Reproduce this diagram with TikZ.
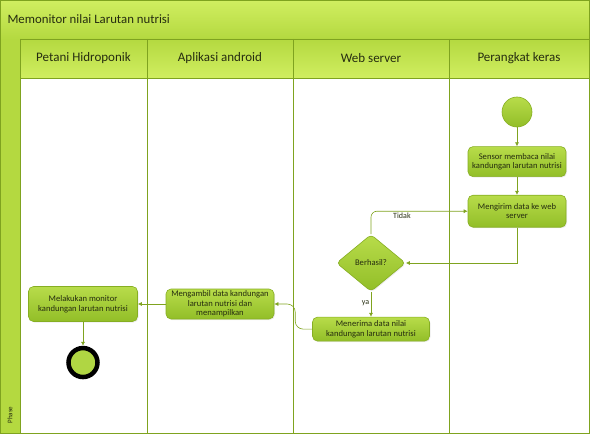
\documentclass[tikz,border=0pt]{standalone}
\usepackage{fontspec}
\setmainfont{Carlito}
\usepackage{xcolor}
\usetikzlibrary{arrows.meta,positioning,shapes.geometric,shadows}
\definecolor{laneLine}{HTML}{7FA31F}
\definecolor{bandLight}{HTML}{D0EE60}
\definecolor{bandDark}{HTML}{B4D940}
\definecolor{actLight}{HTML}{B8DC4A}
\definecolor{actDark}{HTML}{92BE28}
\definecolor{actEdge}{HTML}{86AE22}
\definecolor{inkText}{HTML}{262D10}
\tikzset{
    >=Latex,
    act/.style={draw=actEdge, line width=0.6pt, rounded corners=5pt, align=center, font=\fontsize{8.6}{9.6}\selectfont, text=inkText, top color=actLight, bottom color=actDark, inner sep=1pt, drop shadow={shadow xshift=1pt, shadow yshift=-1pt, opacity=0.15}},
    dec/.style={diamond, draw=actEdge, line width=0.6pt, rounded corners=4pt, font=\fontsize{8.6}{9.6}\selectfont, text=inkText, top color=actLight, bottom color=actDark, inner sep=0pt, minimum width=69pt, minimum height=57pt, drop shadow={shadow xshift=1pt, shadow yshift=-1pt, opacity=0.15}},
    startdot/.style={circle, draw=actEdge, line width=0.6pt, top color=actLight, bottom color=actDark, minimum size=30pt, inner sep=0pt},
    enddot/.style={circle, draw=black, line width=4.5pt, fill=actLight!80!actDark, minimum size=29pt, inner sep=0pt},
    flow/.style={-{Latex[length=4pt,width=4pt]}, line width=0.6pt, draw=laneLine},
    lbl/.style={font=\fontsize{8}{9}\selectfont, text=inkText, inner sep=1.5pt},
    lanehead/.style={font=\fontsize{13}{15}\selectfont, text=inkText}
}
\begin{document}
\begin{tikzpicture}[x=1pt, y=-1pt]
\useasboundingbox (0,0) rectangle (590,436);
% pool, title band, lane headers
\shade[top color=bandLight, bottom color=bandDark, draw=laneLine, line width=0.8pt] (0.5,0.5) rectangle (589.5,39);
\shade[top color=bandDark, bottom color=bandLight, draw=laneLine, line width=0.8pt] (20,39) rectangle (589.5,78);
\fill[bandDark] (0.5,39) rectangle (20,433);
\draw[laneLine, line width=0.8pt] (0.5,0.5) rectangle (589.5,433);
\draw[laneLine, line width=0.8pt] (20,39) -- (20,433);
\foreach \lx in {147,293,449}
    \draw[laneLine, line width=0.8pt] (\lx,39) -- (\lx,433);
\node[anchor=west, font=\fontsize{12.8}{15}\selectfont, text=inkText] (judul) at (4,19) {Memonitor nilai Larutan nutrisi};
\node[lanehead] (petani) at (83.5,58) {Petani Hidroponik};
\node[lanehead] (aplikasi) at (220,58) {Aplikasi android};
\node[lanehead] (server) at (371,58) {Web server};
\node[lanehead] (perangkat) at (519,58) {Perangkat keras};
\node[rotate=90, font=\fontsize{7}{8}\selectfont, text=inkText] (fase) at (10,415) {Phase};
% activities
\node[startdot] (mulai) at (517,112) {};
\node[act, minimum width=98pt, minimum height=30pt, below=19pt of mulai] (sensor) {Sensor membaca nilai\\kandungan larutan nutrisi};
\node[act, minimum width=98pt, minimum height=32pt, below=18pt of sensor] (kirim) {Mengirim data ke web\\server};
\node[dec] (cek) at (371,263) {Berhasil?};
\node[act, minimum width=117pt, minimum height=24pt, below=25pt of cek] (terima) {Menerima data nilai\\kandungan larutan nutrisi};
\node[act, minimum width=108pt, minimum height=30pt] (ambil) at (220,304) {Mengambil data kandungan\\larutan nutrisi dan\\menampilkan};
\node[act, minimum width=109pt, minimum height=35pt] (lakukan) at (83,304) {Melakukan monitor\\kandungan larutan nutrisi};
\node[enddot, below=24pt of lakukan] (akhir) {};
% connectors
\draw[flow] (mulai) -- (sensor);
\draw[flow] (sensor) -- (kirim);
\draw[flow] (kirim.south) |- (cek.east);
\draw[flow, rounded corners=6pt] (cek.north) |- node[lbl, pos=0.66, below=0pt] {Tidak} (kirim.west);
\draw[flow] (cek) -- node[lbl, left, pos=0.45] {ya} (terima);
\draw[flow, rounded corners=8pt] (terima.west) -- ++(-17,0) |- (ambil.east);
\draw[flow] (ambil) -- (lakukan);
\draw[flow] (lakukan) -- (akhir);
\end{tikzpicture}
\end{document}
